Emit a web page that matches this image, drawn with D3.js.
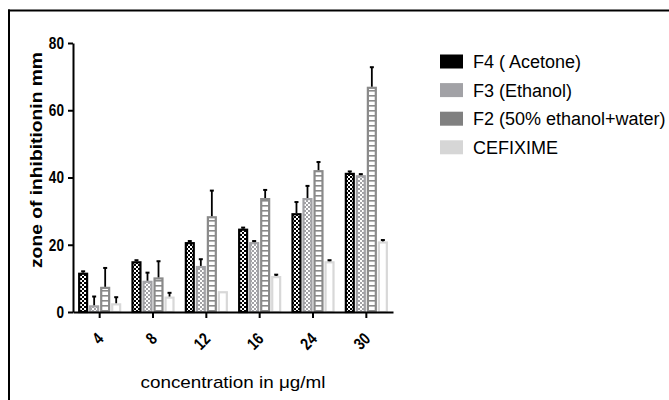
<!DOCTYPE html>
<html><head><meta charset="utf-8">
<script src="https://cdn.jsdelivr.net/npm/d3@7"></script>
<style>body{margin:0;background:#fff}</style>
</head><body><svg id="c" width="669" height="400"></svg>
<script>
const categories = ["4","8","12","16","24","30"];
const seriesNames = ["F4 ( Acetone)","F3 (Ethanol)","F2 (50% ethanol+water)","CEFIXIME"];
const f4 = [11.7,15.1,20.8,24.8,29.4,41.4];
const f3 = [2.0,9.3,13.7,20.8,33.9,40.7];
const f2 = [7.5,10.3,28.5,33.9,42.2,67.0];
const cef = [2.6,4.6,6.2,10.7,15.1,21.0];
const f4Err = [0.4,0.3,0.3,0.3,3.3,0.4];
const f3Err = [2.6,2.4,2.0,0.3,3.6,0.3];
const f2Err = [5.6,4.8,7.6,2.4,2.4,5.8];
const cefErr = [1.8,1.1,0,0.4,0.3,0.4];
const yTicks = [0,20,40,60,80];

const strokeCols = ["#000000","#a2a2a6","#8a8a8a","#d8d8d8"];
const legendCols = ["#000000","#a2a2a6","#808080","#d6d6d6"];
const values = [f4,f3,f2,cef];
const errs = [f4Err,f3Err,f2Err,cefErr];

const svg = d3.select("#c");
const defs = svg.append("defs");
let p = defs.append("pattern").attr("id","p0").attr("patternUnits","userSpaceOnUse").attr("width",4).attr("height",4);
p.append("rect").attr("width",4).attr("height",4).attr("fill","#000");
p.append("rect").attr("x",0).attr("y",0).attr("width",2).attr("height",2).attr("fill","#fff");
p.append("rect").attr("x",2).attr("y",2).attr("width",2).attr("height",2).attr("fill","#fff");
p = defs.append("pattern").attr("id","p1").attr("patternUnits","userSpaceOnUse").attr("width",4).attr("height",4);
p.append("rect").attr("width",4).attr("height",4).attr("fill","#a2a2a6");
p.append("rect").attr("x",0).attr("y",0).attr("width",2).attr("height",2).attr("fill","#fff");
p.append("rect").attr("x",2).attr("y",2).attr("width",2).attr("height",2).attr("fill","#fff");
p = defs.append("pattern").attr("id","p2").attr("patternUnits","userSpaceOnUse").attr("width",10).attr("height",5);
p.append("rect").attr("width",10).attr("height",5).attr("fill","#fff");
p.append("rect").attr("width",10).attr("height",1.6).attr("fill","#8a8a8a");
const fills = ["url(#p0)","url(#p1)","url(#p2)","#fff"];

function narrow(sel, f){
  sel.each(function(){
    const w = this.getComputedTextLength();
    d3.select(this).attr("textLength", w*f).attr("lengthAdjust","spacingAndGlyphs");
  });
}

svg.append("line").attr("x1",8).attr("x2",669).attr("y1",10.5).attr("y2",10.5).attr("stroke","#000").attr("stroke-width",2);
svg.append("line").attr("x1",9).attr("x2",9).attr("y1",9.5).attr("y2",400).attr("stroke","#000").attr("stroke-width",2);

const x = d3.scaleBand().domain(categories).range([73,393]).paddingInner(0.19).paddingOuter(0.095);
const xs = d3.scaleBand().domain(d3.range(4)).range([0,x.bandwidth()]).paddingInner(0.08);
const y = d3.scaleLinear().domain([0,80]).range([312,43]);

const data = [];
categories.forEach((c,i)=>values.forEach((v,s)=>data.push({c,s,v:v[i],e:errs[s][i]})));

const sw = 2.2;
svg.append("g").selectAll("rect").data(data).join("rect")
  .attr("x",d=>x(d.c)+xs(d.s)+sw/2)
  .attr("width",xs.bandwidth()-sw)
  .attr("y",d=>y(d.v)+sw/2)
  .attr("height",d=>y(0)-y(d.v)-sw/2)
  .attr("fill",d=>fills[d.s])
  .attr("stroke",d=>strokeCols[d.s])
  .attr("stroke-width",sw);

const eg = svg.append("g").selectAll("g").data(data.filter(d=>d.e>0)).join("g");
eg.append("line")
  .attr("x1",d=>x(d.c)+xs(d.s)+xs.bandwidth()/2)
  .attr("x2",d=>x(d.c)+xs(d.s)+xs.bandwidth()/2)
  .attr("y1",d=>y(d.v))
  .attr("y2",d=>y(d.v+d.e))
  .attr("stroke","#000").attr("stroke-width",1.8);
eg.append("line")
  .attr("x1",d=>x(d.c)+xs(d.s)+xs.bandwidth()/2-2)
  .attr("x2",d=>x(d.c)+xs(d.s)+xs.bandwidth()/2+2)
  .attr("y1",d=>y(d.v+d.e))
  .attr("y2",d=>y(d.v+d.e))
  .attr("stroke","#000").attr("stroke-width",2);

const font = "'Liberation Sans',Arial,sans-serif";
const ya = svg.append("g").attr("transform","translate(73,0)")
  .call(d3.axisLeft(y).tickValues(yTicks).tickSize(5).tickSizeOuter(0).tickPadding(4));
ya.select(".domain").attr("stroke","#000").attr("stroke-width",2);
ya.selectAll(".tick line").attr("stroke","#000").attr("stroke-width",2);
ya.selectAll(".tick text").attr("font-family",font).attr("font-weight","bold").attr("font-size",17).attr("fill","#000");
narrow(ya.selectAll(".tick text"),0.8);

const xa = svg.append("g").attr("transform","translate(0,312)")
  .call(d3.axisBottom(x).tickSize(6).tickSizeOuter(0));
xa.select(".domain").attr("stroke","#000").attr("stroke-width",2);
xa.selectAll(".tick line").attr("stroke","#000").attr("stroke-width",2);
xa.selectAll(".tick text")
  .attr("font-family",font).attr("font-weight","bold").attr("font-size",17).attr("fill","#000")
  .attr("text-anchor","end").attr("dy",0).attr("y",0)
  .attr("transform","translate(5,28) rotate(-45)");
narrow(xa.selectAll(".tick text"),0.8);

svg.append("text").attr("transform","translate(42,160) rotate(-90)")
  .attr("text-anchor","middle").attr("font-family",font)
  .attr("font-weight","bold").attr("font-size",17).attr("fill","#000")
  .attr("textLength",216).attr("lengthAdjust","spacingAndGlyphs")
  .text("zone of inhibitionin mm");
svg.append("text").attr("x",233).attr("y",388)
  .attr("text-anchor","middle").attr("font-family",font)
  .attr("font-size",17).attr("fill","#000")
  .attr("textLength",185).attr("lengthAdjust","spacingAndGlyphs")
  .text("concentration in μg/ml");

const lg = svg.append("g").selectAll("g").data(seriesNames).join("g")
  .attr("transform",(d,i)=>`translate(440,${61.5+i*28.6})`);
lg.append("rect").attr("x",0).attr("y",-7).attr("width",23).attr("height",14).attr("fill",(d,i)=>legendCols[i]);
lg.append("text").attr("x",33).attr("y",6.5).attr("font-family",font)
  .attr("font-size",18).attr("fill","#000").text(d=>d);
</script></body></html>
